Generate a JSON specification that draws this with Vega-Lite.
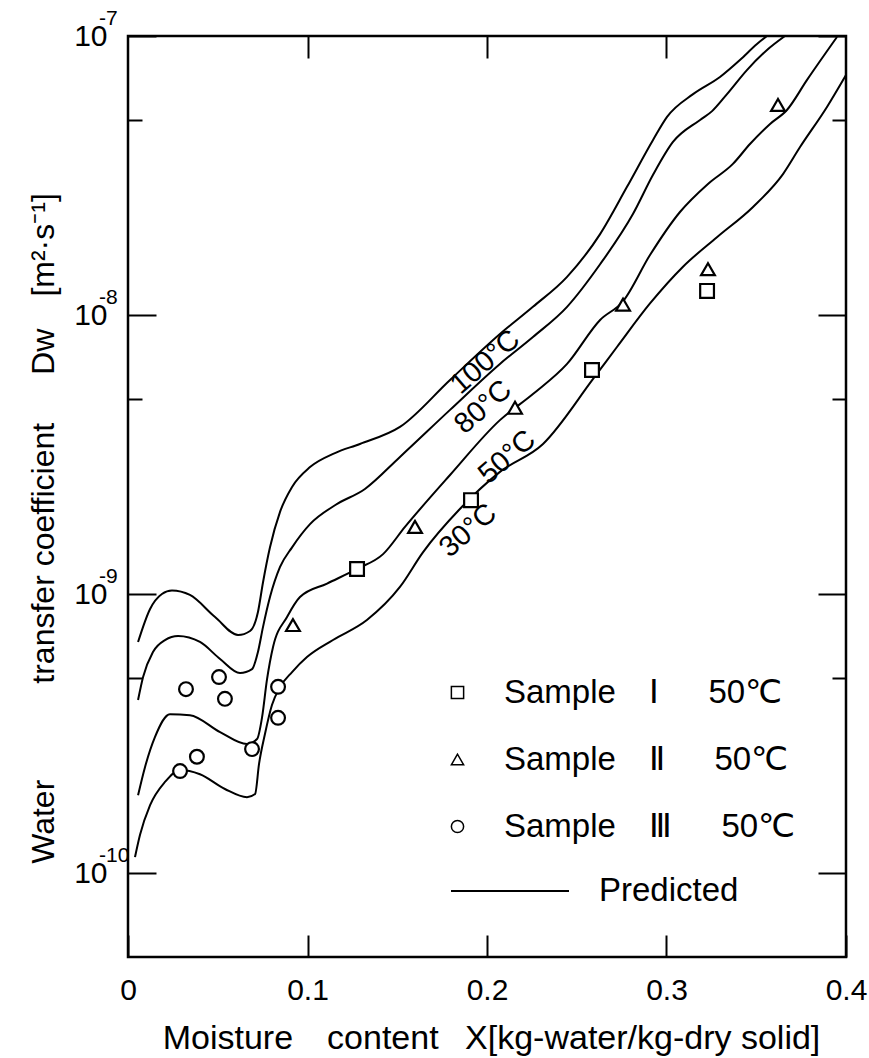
{
  "$schema": "https://vega.github.io/schema/vega-lite/v6.json",
  "width": 718,
  "height": 921,
  "autosize": {"type": "none"},
  "padding": {"left": 128, "top": 36, "right": 23, "bottom": 101},
  "background": "white",
  "config": {
    "view": {"stroke": "black", "strokeWidth": 2.5},
    "axis": {"grid": false, "domain": false, "tickColor": "black", "tickWidth": 2, "labelColor": "black", "titleColor": "black", "labelFont": "Liberation Sans", "titleFont": "Liberation Sans", "titleFontWeight": "normal"},
    "legend": {"labelFont": "Liberation Sans", "labelColor": "black", "labelFontSize": 33, "title": null, "labelLimit": 600},
    "text": {"font": "Liberation Sans", "color": "black"}
  },
  "datasets": {
    "curves": [
      {"T": "100", "X": 0.0056, "Dw": 6.73e-10}, {"T": "100", "X": 0.0123, "Dw": 8.84e-10}, {"T": "100", "X": 0.0189, "Dw": 1.0e-9}, {"T": "100", "X": 0.0245, "Dw": 1.03e-9}, {"T": "100", "X": 0.0345, "Dw": 9.92e-10}, {"T": "100", "X": 0.0485, "Dw": 8.27e-10}, {"T": "100", "X": 0.0613, "Dw": 7.13e-10}, {"T": "100", "X": 0.068, "Dw": 7.37e-10}, {"T": "100", "X": 0.0724, "Dw": 8.62e-10}, {"T": "100", "X": 0.0752, "Dw": 1.1e-9}, {"T": "100", "X": 0.0791, "Dw": 1.47e-9}, {"T": "100", "X": 0.0847, "Dw": 1.97e-9}, {"T": "100", "X": 0.0914, "Dw": 2.42e-9}, {"T": "100", "X": 0.1014, "Dw": 2.85e-9}, {"T": "100", "X": 0.1153, "Dw": 3.2e-9}, {"T": "100", "X": 0.1292, "Dw": 3.45e-9}, {"T": "100", "X": 0.1515, "Dw": 3.97e-9}, {"T": "100", "X": 0.1794, "Dw": 5.85e-9}, {"T": "100", "X": 0.2072, "Dw": 8.55e-9}, {"T": "100", "X": 0.2256, "Dw": 1.07e-8}, {"T": "100", "X": 0.2446, "Dw": 1.37e-8}, {"T": "100", "X": 0.263, "Dw": 1.95e-8}, {"T": "100", "X": 0.278, "Dw": 2.88e-8}, {"T": "100", "X": 0.2925, "Dw": 4.24e-8}, {"T": "100", "X": 0.3003, "Dw": 5.13e-8}, {"T": "100", "X": 0.3148, "Dw": 6.19e-8}, {"T": "100", "X": 0.3298, "Dw": 7.13e-8}, {"T": "100", "X": 0.3409, "Dw": 8.2e-8}, {"T": "100", "X": 0.3504, "Dw": 9.36e-8}, {"T": "100", "X": 0.356, "Dw": 1.0e-7},
      {"T": "80", "X": 0.0056, "Dw": 4.17e-10}, {"T": "80", "X": 0.0084, "Dw": 5.04e-10}, {"T": "80", "X": 0.0139, "Dw": 6.2e-10}, {"T": "80", "X": 0.0206, "Dw": 6.84e-10}, {"T": "80", "X": 0.0279, "Dw": 7.07e-10}, {"T": "80", "X": 0.0401, "Dw": 6.73e-10}, {"T": "80", "X": 0.0513, "Dw": 5.85e-10}, {"T": "80", "X": 0.0624, "Dw": 5.21e-10}, {"T": "80", "X": 0.0691, "Dw": 5.38e-10}, {"T": "80", "X": 0.0724, "Dw": 6.2e-10}, {"T": "80", "X": 0.0752, "Dw": 7.61e-10}, {"T": "80", "X": 0.0791, "Dw": 9.75e-10}, {"T": "80", "X": 0.0847, "Dw": 1.25e-9}, {"T": "80", "X": 0.0914, "Dw": 1.47e-9}, {"T": "80", "X": 0.1014, "Dw": 1.78e-9}, {"T": "80", "X": 0.1153, "Dw": 2.08e-9}, {"T": "80", "X": 0.132, "Dw": 2.38e-9}, {"T": "80", "X": 0.1515, "Dw": 3.1e-9}, {"T": "80", "X": 0.1794, "Dw": 4.57e-9}, {"T": "80", "X": 0.2072, "Dw": 6.68e-9}, {"T": "80", "X": 0.2256, "Dw": 8.34e-9}, {"T": "80", "X": 0.2446, "Dw": 1.07e-8}, {"T": "80", "X": 0.263, "Dw": 1.52e-8}, {"T": "80", "X": 0.2813, "Dw": 2.3e-8}, {"T": "80", "X": 0.2925, "Dw": 3.18e-8}, {"T": "80", "X": 0.3036, "Dw": 4.17e-8}, {"T": "80", "X": 0.3187, "Dw": 5.0e-8}, {"T": "80", "X": 0.3254, "Dw": 5.38e-8}, {"T": "80", "X": 0.3337, "Dw": 6.19e-8}, {"T": "80", "X": 0.3448, "Dw": 7.55e-8}, {"T": "80", "X": 0.356, "Dw": 8.91e-8}, {"T": "80", "X": 0.366, "Dw": 1.0e-7},
      {"T": "50", "X": 0.0056, "Dw": 1.9e-10}, {"T": "50", "X": 0.0095, "Dw": 2.4e-10}, {"T": "50", "X": 0.015, "Dw": 3.07e-10}, {"T": "50", "X": 0.0234, "Dw": 3.71e-10}, {"T": "50", "X": 0.0345, "Dw": 3.68e-10}, {"T": "50", "X": 0.0513, "Dw": 3.2e-10}, {"T": "50", "X": 0.0663, "Dw": 2.9e-10}, {"T": "50", "X": 0.0719, "Dw": 3.02e-10}, {"T": "50", "X": 0.0747, "Dw": 3.62e-10}, {"T": "50", "X": 0.0774, "Dw": 4.92e-10}, {"T": "50", "X": 0.0808, "Dw": 6.46e-10}, {"T": "50", "X": 0.0886, "Dw": 8.27e-10}, {"T": "50", "X": 0.0958, "Dw": 9.75e-10}, {"T": "50", "X": 0.1109, "Dw": 1.09e-9}, {"T": "50", "X": 0.1276, "Dw": 1.23e-9}, {"T": "50", "X": 0.1421, "Dw": 1.39e-9}, {"T": "50", "X": 0.1543, "Dw": 1.74e-9}, {"T": "50", "X": 0.1794, "Dw": 2.67e-9}, {"T": "50", "X": 0.2072, "Dw": 4.2e-9}, {"T": "50", "X": 0.2256, "Dw": 5.21e-9}, {"T": "50", "X": 0.2446, "Dw": 6.68e-9}, {"T": "50", "X": 0.263, "Dw": 9.6e-9}, {"T": "50", "X": 0.2758, "Dw": 1.12e-8}, {"T": "50", "X": 0.2908, "Dw": 1.64e-8}, {"T": "50", "X": 0.3075, "Dw": 2.34e-8}, {"T": "50", "X": 0.3231, "Dw": 2.95e-8}, {"T": "50", "X": 0.337, "Dw": 3.48e-8}, {"T": "50", "X": 0.3465, "Dw": 4.1e-8}, {"T": "50", "X": 0.3577, "Dw": 4.84e-8}, {"T": "50", "X": 0.3671, "Dw": 5.43e-8}, {"T": "50", "X": 0.3783, "Dw": 6.96e-8}, {"T": "50", "X": 0.395, "Dw": 9.92e-8},
      {"T": "30", "X": 0.0039, "Dw": 1.14e-10}, {"T": "30", "X": 0.0067, "Dw": 1.37e-10}, {"T": "30", "X": 0.0123, "Dw": 1.75e-10}, {"T": "30", "X": 0.0206, "Dw": 2.12e-10}, {"T": "30", "X": 0.029, "Dw": 2.34e-10}, {"T": "30", "X": 0.0401, "Dw": 2.26e-10}, {"T": "30", "X": 0.054, "Dw": 2.0e-10}, {"T": "30", "X": 0.0663, "Dw": 1.87e-10}, {"T": "30", "X": 0.0708, "Dw": 1.92e-10}, {"T": "30", "X": 0.073, "Dw": 2.46e-10}, {"T": "30", "X": 0.0763, "Dw": 3.15e-10}, {"T": "30", "X": 0.0802, "Dw": 4.0e-10}, {"T": "30", "X": 0.0847, "Dw": 4.64e-10}, {"T": "30", "X": 0.0914, "Dw": 5.25e-10}, {"T": "30", "X": 0.0997, "Dw": 5.94e-10}, {"T": "30", "X": 0.1142, "Dw": 6.84e-10}, {"T": "30", "X": 0.1331, "Dw": 8.07e-10}, {"T": "30", "X": 0.1515, "Dw": 1.06e-9}, {"T": "30", "X": 0.1643, "Dw": 1.41e-9}, {"T": "30", "X": 0.185, "Dw": 2.02e-9}, {"T": "30", "X": 0.2072, "Dw": 2.74e-9}, {"T": "30", "X": 0.2312, "Dw": 3.45e-9}, {"T": "30", "X": 0.2591, "Dw": 5.9e-9}, {"T": "30", "X": 0.2724, "Dw": 7.68e-9}, {"T": "30", "X": 0.2908, "Dw": 1.1e-8}, {"T": "30", "X": 0.3092, "Dw": 1.49e-8}, {"T": "30", "X": 0.3281, "Dw": 1.9e-8}, {"T": "30", "X": 0.3482, "Dw": 2.44e-8}, {"T": "30", "X": 0.3649, "Dw": 3.2e-8}, {"T": "30", "X": 0.3744, "Dw": 4.0e-8}, {"T": "30", "X": 0.3894, "Dw": 5.57e-8}, {"T": "30", "X": 0.4, "Dw": 7.25e-8}
    ],
    "samples": [
      {"sample": "Sample\u2003Ⅰ\u2003\u200250℃", "X": 0.1276, "Dw": 1.23e-9},
      {"sample": "Sample\u2003Ⅰ\u2003\u200250℃", "X": 0.1911, "Dw": 2.17e-9},
      {"sample": "Sample\u2003Ⅰ\u2003\u200250℃", "X": 0.2585, "Dw": 6.35e-9},
      {"sample": "Sample\u2003Ⅰ\u2003\u200250℃", "X": 0.3226, "Dw": 1.22e-8},
      {"sample": "Sample\u2003Ⅱ\u2003\u200250℃", "X": 0.0919, "Dw": 7.74e-10},
      {"sample": "Sample\u2003Ⅱ\u2003\u200250℃", "X": 0.1599, "Dw": 1.74e-9},
      {"sample": "Sample\u2003Ⅱ\u2003\u200250℃", "X": 0.2156, "Dw": 4.65e-9},
      {"sample": "Sample\u2003Ⅱ\u2003\u200250℃", "X": 0.2758, "Dw": 1.09e-8},
      {"sample": "Sample\u2003Ⅱ\u2003\u200250℃", "X": 0.3231, "Dw": 1.46e-8},
      {"sample": "Sample\u2003Ⅱ\u2003\u200250℃", "X": 0.3621, "Dw": 5.66e-8},
      {"sample": "Sample\u2003Ⅲ\u2003\u200250℃", "X": 0.029, "Dw": 2.32e-10},
      {"sample": "Sample\u2003Ⅲ\u2003\u200250℃", "X": 0.0384, "Dw": 2.61e-10},
      {"sample": "Sample\u2003Ⅲ\u2003\u200250℃", "X": 0.0323, "Dw": 4.56e-10},
      {"sample": "Sample\u2003Ⅲ\u2003\u200250℃", "X": 0.0507, "Dw": 5.04e-10},
      {"sample": "Sample\u2003Ⅲ\u2003\u200250℃", "X": 0.054, "Dw": 4.21e-10},
      {"sample": "Sample\u2003Ⅲ\u2003\u200250℃", "X": 0.0691, "Dw": 2.78e-10},
      {"sample": "Sample\u2003Ⅲ\u2003\u200250℃", "X": 0.0836, "Dw": 4.65e-10},
      {"sample": "Sample\u2003Ⅲ\u2003\u200250℃", "X": 0.0836, "Dw": 3.6e-10}
    ],
    "exps": [
      {"Dw": 1e-7, "e": "-7"}, {"Dw": 1e-8, "e": "-8"}, {"Dw": 1e-9, "e": "-9"}, {"Dw": 1e-10, "e": "-10"}
    ],
    "tlabels": [
      {"t": "100°C", "X": 0.1989, "Dw": 6.79e-9},
      {"t": "80°C", "X": 0.1978, "Dw": 4.68e-9},
      {"t": "50°C", "X": 0.2111, "Dw": 3.1e-9},
      {"t": "30°C", "X": 0.1894, "Dw": 1.69e-9}
    ]
  },
  "resolve": {"axis": {"x": "independent", "y": "independent"}},
  "layer": [
    {
      "data": {"name": "curves"},
      "mark": {"type": "line", "strokeWidth": 2, "interpolate": "monotone", "clip": true},
      "encoding": {
        "x": {"field": "X", "type": "quantitative", "scale": {"domain": [0, 0.4], "nice": false, "zero": false},
          "axis": {"orient": "bottom", "values": [0, 0.1, 0.2, 0.3, 0.4], "tickSize": -22, "labelFontSize": 30, "labelPadding": 40, "labelFlush": false,
            "labelExpr": "datum.value == 0 ? '0' : format(datum.value, '.1f')",
            "title": "Moisture\u2003content\u2002 X[kg-water/kg-dry solid]", "titleFontSize": 34, "titleBaseline": "alphabetic", "titleY": 91, "titleX": 363}},
        "y": {"field": "Dw", "type": "quantitative", "scale": {"type": "log", "domain": [5e-11, 1e-7], "nice": false},
          "axis": {"orient": "left", "values": [1e-10, 1e-9, 1e-8, 1e-7], "tickSize": -28, "labelFontSize": 30, "labelPadding": 49, "labelExpr": "'10'", "labelBaseline": "middle",
            "title": "Water\u2003\u2003\u2003transfer coefficient\u2003\u2002Dw\u2002\u2002[m²·s⁻¹]", "titleFontSize": 32, "titleBaseline": "alphabetic", "titleAngle": 270, "titleX": -75, "titleY": 492}},
        "detail": {"field": "T"},
        "color": {"datum": "Predicted", "scale": {"range": ["black"]},
          "legend": {"orient": "none", "legendX": 322, "legendY": 795, "symbolType": "stroke", "symbolSize": 13924, "symbolStrokeWidth": 2, "labelOffset": 29, "labelFontSize": 33}}
      }
    },
    {
      "data": {"name": "samples"},
      "mark": {"type": "point", "filled": true, "fill": "white", "stroke": "black", "strokeWidth": 2.2, "size": 190, "opacity": 1},
      "encoding": {
        "x": {"field": "X", "type": "quantitative", "scale": {"domain": [0, 0.4], "nice": false, "zero": false},
          "axis": {"orient": "top", "values": [0.1, 0.2, 0.3], "tickSize": -22, "labels": false, "title": null}},
        "y": {"field": "Dw", "type": "quantitative", "scale": {"type": "log", "domain": [5e-11, 1e-7], "nice": false},
          "axis": {"orient": "right", "values": [1e-10, 1e-9, 1e-8, 1e-7], "tickSize": -28, "labels": false, "title": null}},
        "shape": {"field": "sample", "type": "nominal",
          "scale": {"domain": ["Sample\u2003Ⅰ\u2003\u200250℃", "Sample\u2003Ⅱ\u2003\u200250℃", "Sample\u2003Ⅲ\u2003\u200250℃"], "range": ["square", "triangle-up", "circle"]},
          "legend": {"orient": "none", "legendX": 313, "legendY": 640, "symbolSize": 150, "labelOffset": 30, "rowPadding": 33, "labelFontSize": 33,
            "encode": {"symbols": {"update": {"fill": {"value": "white"}, "stroke": {"value": "black"}, "strokeWidth": {"value": 2}, "opacity": {"value": 1}}}}}}
      }
    },
    {
      "data": {"name": "exps"},
      "mark": {"type": "text", "align": "left", "baseline": "middle", "fontSize": 21, "dx": -29, "dy": -17},
      "encoding": {
        "x": {"datum": 0, "type": "quantitative", "scale": {"domain": [0, 0.4], "nice": false, "zero": false}, "axis": null},
        "y": {"field": "Dw", "type": "quantitative", "scale": {"type": "log", "domain": [5e-11, 1e-7], "nice": false},
          "axis": {"orient": "left", "values": [5e-10, 5e-9, 5e-8], "tickSize": -14, "labels": false, "title": null}},
        "text": {"field": "e"}
      }
    },
    {
      "data": {"name": "tlabels"},
      "mark": {"type": "text", "align": "center", "baseline": "middle", "fontSize": 29, "angle": 319},
      "encoding": {
        "x": {"field": "X", "type": "quantitative", "scale": {"domain": [0, 0.4], "nice": false, "zero": false}, "axis": null},
        "y": {"field": "Dw", "type": "quantitative", "scale": {"type": "log", "domain": [5e-11, 1e-7], "nice": false},
          "axis": {"orient": "right", "values": [5e-10, 5e-9, 5e-8], "tickSize": -14, "labels": false, "title": null}},
        "text": {"field": "t"}
      }
    }
  ]
}
